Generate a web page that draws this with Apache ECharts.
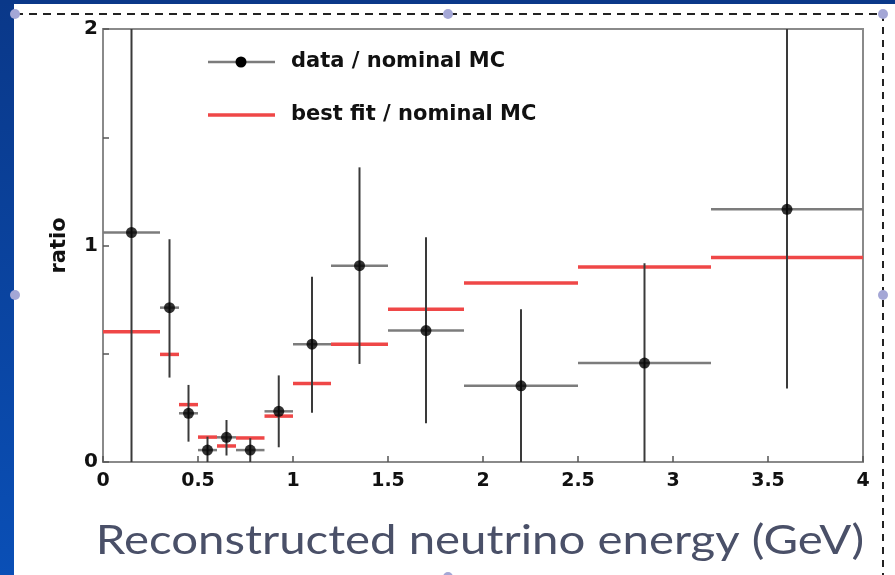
<!DOCTYPE html>
<html>
<head>
<meta charset="utf-8">
<script src="https://cdn.jsdelivr.net/npm/echarts@6/dist/echarts.min.js"></script>
<style>
html,body{margin:0;padding:0;background:#fff;}
#chart{width:895px;height:575px;}
</style>
</head>
<body>
<div id="chart"></div>
<script>
// ---- data ----
const binEdges = [0, 0.3, 0.4, 0.5, 0.6, 0.7, 0.85, 1.0, 1.2, 1.5, 1.9, 2.5, 3.2, 4.0];
const dataX    = [0.15, 0.35, 0.45, 0.55, 0.65, 0.775, 0.925, 1.1, 1.35, 1.7, 2.2, 2.85, 3.6];
const dataY    = [1.06, 0.713, 0.225, 0.055, 0.114, 0.055, 0.234, 0.544, 0.907, 0.607, 0.352, 0.457, 1.167];
const errHigh  = [2.0, 1.029, 0.356, 0.117, 0.194, 0.11, 0.40, 0.856, 1.361, 1.038, 0.705, 0.918, 2.0];
const errLow   = [0.0, 0.39, 0.094, 0.0, 0.03, 0.0, 0.068, 0.228, 0.453, 0.179, 0.0, 0.0, 0.34];
const fitY     = [0.602, 0.497, 0.265, 0.115, 0.074, 0.111, 0.212, 0.363, 0.544, 0.705, 0.827, 0.901, 0.944];
const xTicks   = ['0', '0.5', '1', '1.5', '2', '2.5', '3', '3.5', '4'];
const yTicks   = ['0', '1', '2'];
const seriesNames = ['data / nominal MC', 'best fit / nominal MC'];
const xTitle = 'Reconstructed neutrino energy (GeV)';
const yTitle = 'ratio';

const errData = dataX.map((x, i) => [x, dataY[i], binEdges[i], binEdges[i + 1], errLow[i], errHigh[i]]);
const fitData = fitY.map((y, i) => [binEdges[i], binEdges[i + 1], y]);
const ptData = dataX.map((x, i) => [x, dataY[i]]);

const chart = echarts.init(document.getElementById('chart'));
const boldFont = 'DejaVu Sans';

const option = {
  backgroundColor: '#ffffff',
  animation: false,
  grid: { left: 103, top: 29, right: 32, bottom: 113, show: true, borderColor: '#8a8a8a', borderWidth: 2,
          backgroundColor: 'transparent', containLabel: false, outerBoundsMode: 'none' },
  xAxis: {
    type: 'value', min: 0, max: 4, interval: 0.5,
    axisLine: { show: false },
    axisTick: { show: true, inside: true, length: 6, lineStyle: { color: '#555', width: 1.5 } },
    splitLine: { show: false },
    axisLabel: {
      margin: 10, fontFamily: boldFont, fontWeight: 'bold', fontSize: 19, color: '#111',
      formatter: v => { const s = String(+v.toFixed(1)); return xTicks.indexOf(s) >= 0 ? s : ''; }
    }
  },
  yAxis: {
    type: 'value', min: 0, max: 2, interval: 0.5,
    axisLine: { show: false },
    axisTick: { show: true, inside: true, length: 6, lineStyle: { color: '#555', width: 1.5 } },
    splitLine: { show: false },
    axisLabel: {
      margin: 5, fontFamily: boldFont, fontWeight: 'bold', fontSize: 20, color: '#111',
      formatter: v => { const s = String(+v.toFixed(1)); return yTicks.indexOf(s) >= 0 ? s : ''; }
    },
    name: yTitle, nameLocation: 'middle', nameGap: 33, nameRotate: 90,
    nameTextStyle: { fontFamily: boldFont, fontWeight: 'bold', fontSize: 21, color: '#111' }
  },
  series: [
    {
      name: seriesNames[1], type: 'custom', clip: true, z: 2,
      data: fitData,
      renderItem: (params, api) => {
        const a = api.coord([api.value(0), api.value(2)]);
        const b = api.coord([api.value(1), api.value(2)]);
        return { type: 'line', shape: { x1: a[0], y1: a[1], x2: b[0], y2: b[1] }, style: { stroke: '#ef4747', lineWidth: 3.5 } };
      }
    },
    {
      name: seriesNames[0], type: 'custom', clip: true, z: 3,
      data: errData,
      renderItem: (params, api) => {
        const x = api.value(0), y = api.value(1);
        const lo = api.coord([api.value(2), y]);
        const hi = api.coord([api.value(3), y]);
        const bot = api.coord([x, api.value(4)]);
        const top = api.coord([x, api.value(5)]);
        return {
          type: 'group', children: [
            { type: 'line', shape: { x1: lo[0], y1: lo[1], x2: hi[0], y2: hi[1] }, style: { stroke: '#7c7c7c', lineWidth: 2.5 } },
            { type: 'line', shape: { x1: top[0], y1: top[1], x2: bot[0], y2: bot[1] }, style: { stroke: '#3a3a3a', lineWidth: 2 } }
          ]
        };
      }
    },
    {
      name: seriesNames[0], type: 'scatter', z: 4, data: ptData,
      symbol: 'circle', symbolSize: 11, itemStyle: { color: '#000' }
    }
  ],
  graphic: [
    { type: 'rect', left: 0, top: 0, shape: { width: 14, height: 575 }, silent: true,
      style: { fill: new echarts.graphic.LinearGradient(0, 0, 0, 1, [{ offset: 0, color: '#0a3889' }, { offset: 1, color: '#0a4fb6' }]) } },
    { type: 'rect', left: 0, top: 0, shape: { width: 895, height: 4 }, silent: true, style: { fill: '#0a3889' } },
    { type: 'line', silent: true, shape: { x1: 15, y1: 14, x2: 883, y2: 14 }, style: { stroke: '#222', lineWidth: 2, lineDash: [8, 6] } },
    { type: 'line', silent: true, shape: { x1: 883, y1: 14, x2: 883, y2: 575 }, style: { stroke: '#222', lineWidth: 2, lineDash: [7, 6] } },
    { type: 'circle', silent: true, shape: { cx: 15, cy: 14, r: 5 }, style: { fill: '#a4a7d6' } },
    { type: 'circle', silent: true, shape: { cx: 448, cy: 14, r: 5 }, style: { fill: '#a4a7d6' } },
    { type: 'circle', silent: true, shape: { cx: 883, cy: 14, r: 5 }, style: { fill: '#a4a7d6' } },
    { type: 'circle', silent: true, shape: { cx: 15, cy: 295, r: 5 }, style: { fill: '#a4a7d6' } },
    { type: 'circle', silent: true, shape: { cx: 883, cy: 295, r: 5 }, style: { fill: '#a4a7d6' } },
    { type: 'circle', silent: true, shape: { cx: 448, cy: 577, r: 5 }, style: { fill: '#a4a7d6' } },
    // x-axis title (stretched horizontally like the reference slide)
    { type: 'text', silent: true, x: 480, y: 541, scaleX: 1.155, scaleY: 1,
      style: { text: xTitle, font: '41px Lato', fill: '#4a5068', align: 'center', verticalAlign: 'middle' } },
    // legend
    { type: 'line', silent: true, shape: { x1: 208, y1: 62, x2: 275, y2: 62 }, style: { stroke: '#7c7c7c', lineWidth: 2.5 } },
    { type: 'circle', silent: true, shape: { cx: 241, cy: 62, r: 5.5 }, style: { fill: '#000' } },
    { type: 'text', silent: true, x: 291, y: 62, style: { text: seriesNames[0], font: 'bold 21px "DejaVu Sans"', fill: '#111', verticalAlign: 'middle', align: 'left' } },
    { type: 'line', silent: true, shape: { x1: 208, y1: 115, x2: 275, y2: 115 }, style: { stroke: '#ef4747', lineWidth: 3.5 } },
    { type: 'text', silent: true, x: 291, y: 115, style: { text: seriesNames[1], font: 'bold 21px "DejaVu Sans"', fill: '#111', verticalAlign: 'middle', align: 'left' } }
  ]
};
chart.setOption(option);
</script>
</body>
</html>
